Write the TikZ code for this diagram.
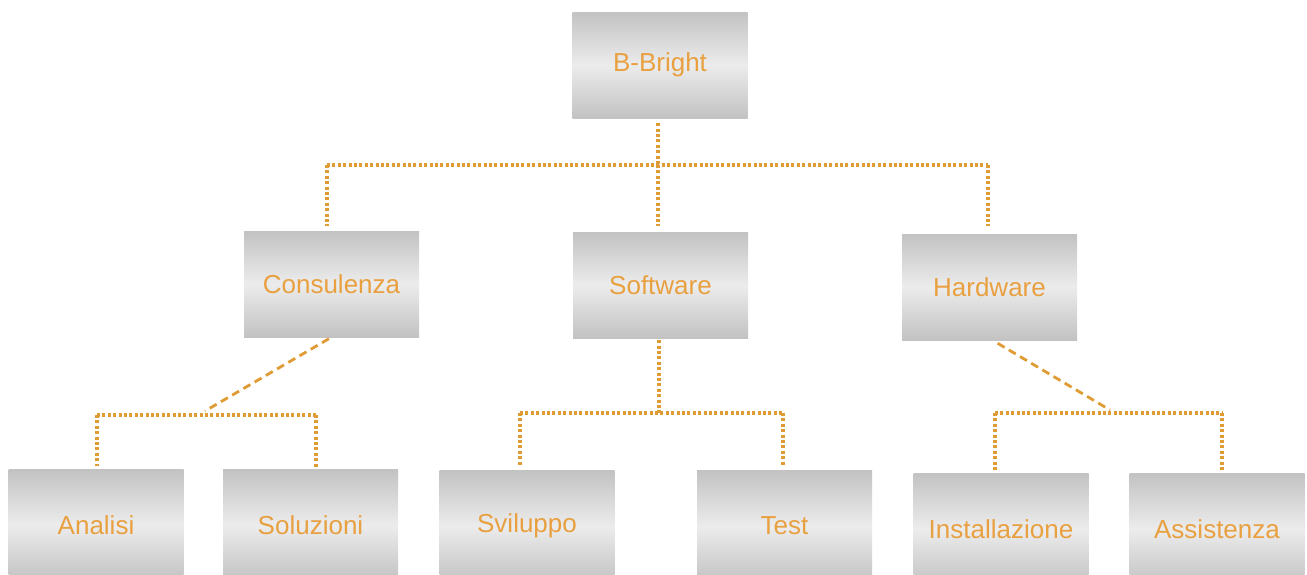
\documentclass[tikz,border=0pt]{standalone}
\usepackage{fontspec}
\setmainfont{Liberation Sans}
\definecolor{lineor}{RGB}{224,156,52}
\definecolor{textor}{RGB}{232,160,64}
\definecolor{boxedge}{RGB}{194,194,194}
\definecolor{boxmid}{RGB}{236,236,236}
\begin{document}
\begin{tikzpicture}[x=1pt,y=-1pt,
  box/.style={rectangle, inner sep=0pt, minimum width=175pt, minimum height=106pt,
    top color=boxedge, bottom color=boxedge, middle color=boxmid,
    text=textor, font=\fontsize{26}{31}\selectfont},
  lowbox/.style={box, minimum height=112pt},
  dotline/.style={draw=lineor, line width=3.4pt, dash pattern=on 3pt off 2.4pt},
  dashline/.style={draw=lineor, line width=2.8pt, dash pattern=on 8pt off 5pt}]
\useasboundingbox (0,0) rectangle (1307,574);
\clip (0,0) rectangle (1307,574);
% boxes
\node[box] (top) at (660,65) {B-Bright};
\node[box] (cons) at (331.5,284) {Consulenza};
\node[box] (soft) at (660.5,285) {Software};
\node[box] (hard) at (989.5,287) {Hardware};
\node[lowbox] (anal) at (96,525) {Analisi};
\node[lowbox] (sol) at (310.5,525) {Soluzioni};
\node[lowbox] (svil) at (527,526) {Sviluppo};
\node[lowbox] (test) at (784.5,526) {Test};
\node[lowbox] (inst) at (1001,529) {Installazione};
\node[lowbox] (assi) at (1217,529) {Assistenza};
% junctions
\coordinate (jt) at (658,165);
\coordinate (jl) at (327,165);
\coordinate (jr) at (988,165);
\coordinate (dc) at (205,411);
\coordinate (cl) at (97,415);
\coordinate (cr) at (316,415);
\coordinate (js) at (659,413);
\coordinate (sl) at (520,413);
\coordinate (sr) at (783,413);
\coordinate (dh) at (1110,410);
\coordinate (hl) at (995,413);
\coordinate (hr) at (1222,413);
% level 1
\draw[dotline, shorten <=5pt] (top.south -| jt) -- (jt);
\draw[dotline] (jl) -- (jr);
\draw[dotline, shorten >=5pt] (jl) -- (jl |- cons.north);
\draw[dotline, shorten >=6pt] (jt) -- (jt |- soft.north);
\draw[dotline, shorten >=8pt] (jr) -- (jr |- hard.north);
% consulenza
\draw[dashline, shorten <=3pt] (cons.south) -- (dc);
\draw[dotline] (cl) -- (cr);
\draw[dotline, shorten >=3pt] (cl) -- (cl |- anal.north);
\draw[dotline] (cr) -- (cr |- sol.north);
% software
\draw[dotline, shorten <=2pt] (soft.south -| js) -- (js);
\draw[dotline] (sl) -- (sr);
\draw[dotline, shorten >=5pt] (sl) -- (sl |- svil.north);
\draw[dotline, shorten >=5pt] (sr) -- (sr |- test.north);
% hardware
\draw[dashline, shorten <=6pt] (hard.south) ++(3,0) coordinate (hs) (hs) -- (dh);
\draw[dotline] (hl) -- (hr);
\draw[dotline, shorten >=3pt] (hl) -- (hl |- inst.north);
\draw[dotline, shorten >=3pt] (hr) -- (hr |- assi.north);
\end{tikzpicture}
\end{document}
